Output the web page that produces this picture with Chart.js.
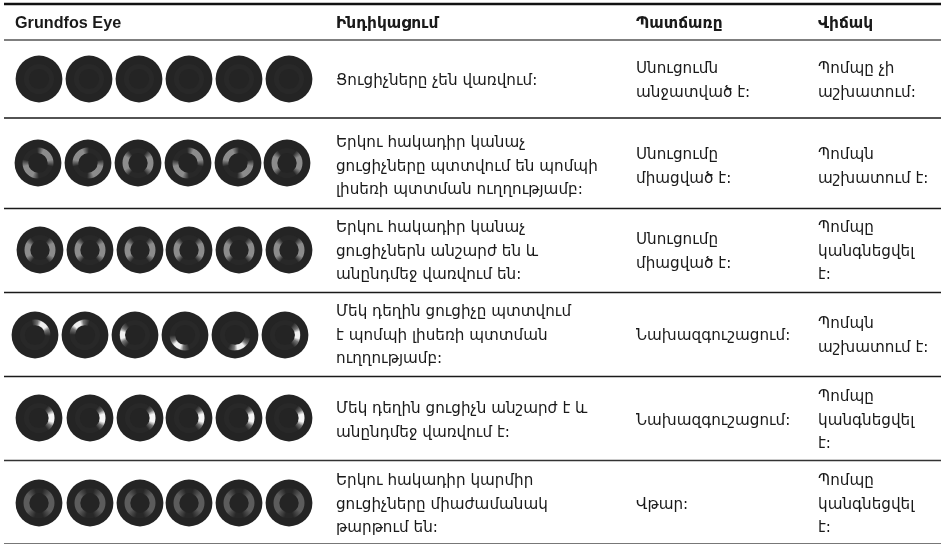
<!DOCTYPE html>
<html>
<head>
<meta charset="utf-8">
<title>Grundfos Eye</title>
<style>
  html, body { margin: 0; background: #fff; }
  canvas { display: block; }
</style>
<script src="https://cdn.jsdelivr.net/npm/chart.js@4"></script>
</head>
<body>
<canvas id="my-chart" width="943" height="545"></canvas>
<script>
"use strict";
const headers = ["Grundfos Eye", "Ինդիկացում", "Պատճառը", "Վիճակ"];

const indications = [
  ["Ցուցիչները չեն վառվում:"],
  ["Երկու հակադիր կանաչ", "ցուցիչները պտտվում են պոմպի", "լիսեռի պտտման ուղղությամբ:"],
  ["Երկու հակադիր կանաչ", "ցուցիչներն անշարժ են և", "անընդմեջ վառվում են:"],
  ["Մեկ դեղին ցուցիչը պտտվում", "է պոմպի լիսեռի պտտման", "ուղղությամբ:"],
  ["Մեկ դեղին ցուցիչն անշարժ է և", "անընդմեջ վառվում է:"],
  ["Երկու հակադիր կարմիր", "ցուցիչները միաժամանակ", "թարթում են:"],
];
const causes = [
  ["Սնուցումն", "անջատված է:"],
  ["Սնուցումը", "միացված է:"],
  ["Սնուցումը", "միացված է:"],
  ["Նախազգուշացում:"],
  ["Նախազգուշացում:"],
  ["Վթար:"],
];
const states = [
  ["Պոմպը չի", "աշխատում:"],
  ["Պոմպն", "աշխատում է:"],
  ["Պոմպը", "կանգնեցվել", "է:"],
  ["Պոմպն", "աշխատում է:"],
  ["Պոմպը", "կանգնեցվել", "է:"],
  ["Պոմպը", "կանգնեցվել", "է:"],
];

// angle of the lit segments in each of the six eyes, degrees, 0 = right, clockwise
const eyeAngles = [
  [[], [], [], [], [], []],
  [[-40, 140], [-140, 40], [0, 180], [-40, 140], [-140, 40], [0, 180]],
  [[0, 180], [0, 180], [0, 180], [0, 180], [0, 180], [0, 180]],
  [[-50], [-125], [180], [125], [65], [0]],
  [[0], [0], [0], [0], [0], [0]],
  [[0, 180], [0, 180], [0, 180], [0, 180], [0, 180], [0, 180]],
];

// layout, in page pixels
const columnX = [15, 336, 636, 818];
const rowMiddle = [81, 167, 252, 336, 421, 505];
const eyeCentres = [
  { y: 79, x: [39, 89, 139, 189, 239, 289] },
  { y: 163, x: [38, 88, 138, 188, 238, 287] },
  { y: 250, x: [40, 90, 140, 189, 239, 289] },
  { y: 335, x: [35, 85, 135, 185, 235, 285] },
  { y: 418, x: [39, 90, 140, 189, 239, 289] },
  { y: 503, x: [39, 90, 140, 189, 239, 289] },
];
const rules = [
  { y: 4, width: 2.4, color: "#111111" },
  { y: 40, width: 1.5, color: "#555555" },
  { y: 118, width: 1.3, color: "#1a1a1a" },
  { y: 208.5, width: 1.3, color: "#1a1a1a" },
  { y: 292.5, width: 1.3, color: "#1a1a1a" },
  { y: 376.5, width: 1.3, color: "#1a1a1a" },
  { y: 460.5, width: 1.3, color: "#333333" },
  { y: 543.5, width: 1.2, color: "#777777" },
];
// each row's lit segment: one or two layers, soft grey body and bright core
const segmentLooks = [
  [],
  [{ color: "140,140,140", halfSpan: 54, width: 5.8 }],
  [{ color: "140,140,140", halfSpan: 54, width: 5.8 }],
  [
    { color: "120,120,120", halfSpan: 54, width: 5.6 },
    { color: "240,240,240", halfSpan: 28, width: 5 },
  ],
  [
    { color: "130,130,130", halfSpan: 54, width: 5.8 },
    { color: "245,245,245", halfSpan: 32, width: 5.6 },
  ],
  [{ color: "92,92,92", halfSpan: 74, width: 5.8 }],
];
const ringRadius = 12.6;

const lineHeight = 23.5;
const bodyFont = "15.2px 'DejaVu Sans', sans-serif";
const headFonts = [
  "bold 16.2px 'Liberation Sans', sans-serif",
  "bold 15.4px 'DejaVu Sans', sans-serif",
  "bold 15.4px 'DejaVu Sans', sans-serif",
  "bold 15.4px 'DejaVu Sans', sans-serif",
];

// paints one eye sharp on a scratch canvas, then blurs it once onto the point style canvas
function makeEye(angles, looks) {
  const size = 64;
  const mid = size / 2;
  const sharp = document.createElement("canvas");
  sharp.width = size;
  sharp.height = size;
  const ctx = sharp.getContext("2d");

  ctx.fillStyle = "#242424";
  ctx.beginPath();
  ctx.arc(mid, mid, 23.4, 0, Math.PI * 2);
  ctx.fill();

  // faint ring that shows when the indicators are off
  ctx.strokeStyle = "#282828";
  ctx.lineWidth = 5;
  ctx.beginPath();
  ctx.arc(mid, mid, ringRadius, 0, Math.PI * 2);
  ctx.stroke();

  // lit segments fade towards their ends
  for (let i = 0; i < angles.length; i++) {
    for (const look of looks) {
      const span = look.halfSpan / 360;
      const startAngle = ((angles[i] - 180) * Math.PI) / 180;
      const gradient = ctx.createConicGradient(startAngle, mid, mid);
      gradient.addColorStop(0, `rgba(${look.color},0)`);
      gradient.addColorStop(0.5 - span, `rgba(${look.color},0)`);
      gradient.addColorStop(0.5 - span / 2, `rgba(${look.color},1)`);
      gradient.addColorStop(0.5 + span / 2, `rgba(${look.color},1)`);
      gradient.addColorStop(0.5 + span, `rgba(${look.color},0)`);
      gradient.addColorStop(1, `rgba(${look.color},0)`);
      ctx.strokeStyle = gradient;
      ctx.lineWidth = look.width;
      ctx.beginPath();
      ctx.arc(mid, mid, ringRadius, 0, Math.PI * 2);
      ctx.stroke();
    }
  }

  const eye = document.createElement("canvas");
  eye.width = size;
  eye.height = size;
  const eyeCtx = eye.getContext("2d");
  eyeCtx.filter = "blur(0.7px)";
  eyeCtx.drawImage(sharp, 0, 0);
  return eye;
}

const eyePoints = [];
const eyeStyles = [];
for (let r = 0; r < eyeCentres.length; r++) {
  for (let c = 0; c < eyeCentres[r].x.length; c++) {
    eyePoints.push({ x: eyeCentres[r].x[c], y: eyeCentres[r].y });
    eyeStyles.push(makeEye(eyeAngles[r][c], segmentLooks[r]));
  }
}

const ruleSets = rules.map((rule) => ({
  type: "line",
  data: [{ x: 4, y: rule.y }, { x: 941, y: rule.y }],
  borderColor: rule.color,
  borderWidth: rule.width,
  pointRadius: 0,
}));

// table text, placed through the same scales as the eyes
const tableText = {
  id: "tableText",
  afterDraw(chart) {
    const ctx = chart.ctx;
    const xScale = chart.scales.x;
    const yScale = chart.scales.y;
    ctx.save();
    ctx.textBaseline = "middle";
    ctx.fillStyle = "#1a1a1a";

    for (let i = 0; i < headers.length; i++) {
      ctx.font = headFonts[i];
      ctx.fillText(headers[i], xScale.getPixelForValue(columnX[i]), yScale.getPixelForValue(24));
    }

    ctx.font = bodyFont;
    const columns = [indications, causes, states];
    for (let c = 0; c < columns.length; c++) {
      for (let r = 0; r < columns[c].length; r++) {
        const lines = columns[c][r];
        const top = rowMiddle[r] - ((lines.length - 1) * lineHeight) / 2;
        for (let l = 0; l < lines.length; l++) {
          ctx.fillText(lines[l], xScale.getPixelForValue(columnX[c + 1]), yScale.getPixelForValue(top + l * lineHeight));
        }
      }
    }
    ctx.restore();
  },
};

new Chart(document.getElementById("my-chart"), {
  type: "scatter",
  data: {
    datasets: [
      {
        data: eyePoints,
        pointStyle: eyeStyles,
        pointRadius: 32,
        clip: false,
      },
      ...ruleSets,
    ],
  },
  options: {
    responsive: false,
    animation: false,
    events: [],
    layout: { padding: 0, autoPadding: false },
    plugins: { legend: { display: false }, tooltip: { enabled: false } },
    scales: {
      x: { type: "linear", min: 0, max: 943, display: false },
      y: { type: "linear", min: 0, max: 545, reverse: true, display: false },
    },
  },
  plugins: [tableText],
});
</script>
</body>
</html>
